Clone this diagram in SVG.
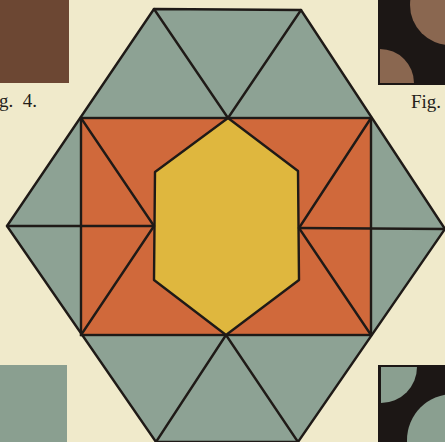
<svg xmlns="http://www.w3.org/2000/svg" width="445" height="442" viewBox="0 0 445 442">
<style>
.ln{stroke:#1f1a17;stroke-width:2.4;fill:none;stroke-linejoin:round;stroke-linecap:round}
.lbl{font-family:"Liberation Serif",serif;font-size:19px;fill:#241e1a}
</style>
<rect width="445" height="442" fill="#f0eacb"/>
<g id="thumb-tl"><rect x="0" y="0" width="69" height="83" fill="#6c4733"/></g>
<text class="lbl" x="-1" y="107" xml:space="preserve">g.  4.</text>
<g id="thumb-tr">
<rect x="378" y="0" width="67" height="85" fill="#1c1715"/>
<circle cx="450" cy="5" r="40" fill="#8a6750"/>
<path d="M380,83 L380,49 A34,34 0 0 1 414,83 Z" fill="#8a6750"/>
</g>
<text class="lbl" x="411" y="108">Fig.</text>
<g id="thumb-bl"><rect x="0" y="365" width="67" height="77" fill="#8a9f90"/></g>
<g id="thumb-br">
<rect x="378" y="365" width="67" height="77" fill="#1c1715"/>
<path d="M381,367 L417,367 A36,36 0 0 1 381,403 Z" fill="#8a9f90"/>
<circle cx="453" cy="440" r="46" fill="#8a9f90"/>
</g>
<g id="hexagon"><polygon points="154,9 301,10 445,229 298,442 156,442 7,226" class="ln" style="fill:#8da294"/></g>
<g id="rectangle"><rect x="81" y="118" width="290" height="217" fill="#d0693b" stroke="#1f1a17" stroke-width="2.4"/></g>
<g id="inner-hexagon"><polygon points="228,118 298,171 299,280 226,335 154,280 155,172" class="ln" style="fill:#dfb73e"/></g>
<g id="connectors" class="ln">
<path d="M154,9 L228,118 L301,10"/>
<path d="M156,442 L226,335 L298,442"/>
<path d="M7,226 L154,226"/>
<path d="M299,228 L445,229"/>
<path d="M81,118 L154,226 L81,335"/>
<path d="M371,118 L299,228 L371,335"/>
</g>
</svg>
